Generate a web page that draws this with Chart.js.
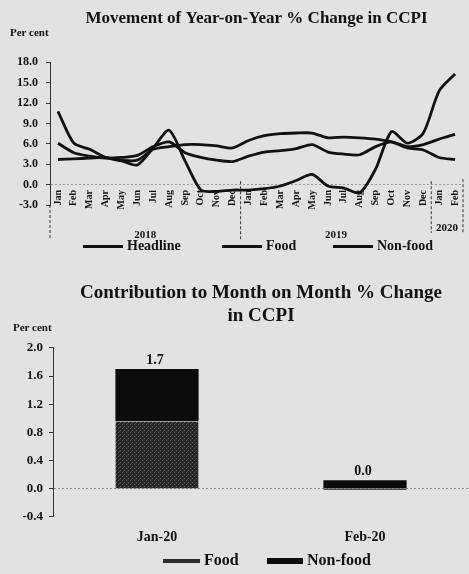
<!DOCTYPE html>
<html>
<head>
<meta charset="utf-8">
<script src="https://cdn.jsdelivr.net/npm/chart.js@4.4.1/dist/chart.umd.min.js"></script>
<style>
  body { margin: 0; background: #e2e3e1; font-family: 'Liberation Serif', serif; color: #111; }
  #wrap { position: relative; width: 469px; height: 574px; overflow: hidden; }
  canvas { position: absolute; left: 0; }
  .unit { position: absolute; font-weight: bold; font-size: 11px; line-height: 1; }
  .key { position: absolute; font-weight: bold; white-space: nowrap; line-height: 1; }
  .key i { display: inline-block; vertical-align: middle; margin-right: 4px; background: #111; }
</style>
</head>
<body>
<div id="wrap">
  <canvas id="yoyChart" width="469" height="242" style="top:0"></canvas>
  <div class="unit" style="left:10px;top:27px">Per cent</div>
  <div class="key" style="left:83px;top:239px;font-size:14px"><i style="width:40px;height:3px"></i>Headline</div>
  <div class="key" style="left:222px;top:239px;font-size:14px"><i style="width:40px;height:3px"></i>Food</div>
  <div class="key" style="left:333px;top:239px;font-size:14px"><i style="width:40px;height:3px"></i>Non-food</div>

  <canvas id="momChart" width="469" height="290" style="top:262px"></canvas>
  <div class="unit" style="left:13px;top:322px">Per cent</div>
  <div class="key" style="left:163px;top:552px;font-size:16px"><i style="width:37px;height:4px;background:#2c2c2c"></i>Food</div>
  <div class="key" style="left:267px;top:552px;font-size:16px"><i style="width:36px;height:6px;background:#0b0b0b"></i>Non-food</div>
</div>

<script>
// --- year-on-year chart data (Jan 2018 - Feb 2020)
const months = ['Jan', 'Feb', 'Mar', 'Apr', 'May', 'Jun', 'Jul', 'Aug', 'Sep', 'Oct', 'Nov', 'Dec',
                'Jan', 'Feb', 'Mar', 'Apr', 'May', 'Jun', 'Jul', 'Aug', 'Sep', 'Oct', 'Nov', 'Dec',
                'Jan', 'Feb'];
const years = ['2018', '2019', '2020'];
const yearStart = [0, 12, 24];
const headline = [6.1, 4.7, 4.2, 3.9, 4.0, 4.3, 5.6, 6.3, 4.7, 4.0, 3.6, 3.4,
                  4.2, 4.8, 5.0, 5.3, 5.9, 4.8, 4.5, 4.4, 5.6, 6.3, 5.6, 5.9,
                  6.7, 7.4];
const food = [10.8, 6.1, 5.2, 4.0, 3.5, 2.9, 5.4, 8.0, 3.5, -0.8, -1.0, -0.8,
              -0.8, -0.6, -0.2, 0.6, 1.5, -0.2, -0.5, -1.2, 2.3, 7.8, 6.1, 7.6,
              13.8, 16.3];
const nonFood = [3.7, 3.8, 3.9, 4.0, 3.6, 3.6, 5.2, 5.6, 5.9, 5.9, 5.7, 5.4,
                 6.5, 7.2, 7.5, 7.6, 7.6, 6.9, 7.0, 6.9, 6.7, 6.3, 5.4, 5.1,
                 4.0, 3.7];

// --- month-on-month contribution data
const contribLabels = ['Jan-20', 'Feb-20'];
const foodContrib = [0.96, -0.02];
const nonFoodContrib = [0.74, 0.12];
const totalLabels = ['1.7', '0.0'];

const serif = 'Liberation Serif';
const ink = '#111';

function isZero(c) {
  return c.tick && Math.abs(c.tick.value) < 1e-9;
}
function oneDecimal(v) {
  return Math.abs(v) < 1e-9 ? '0.0' : v.toFixed(1);
}

// month names sit inside the plot at the -3 level, then year captions and dashed separators
const yearMarks = {
  id: 'yearMarks',
  afterDraw(chart) {
    const { ctx, chartArea, scales: { x, y } } = chart;
    const half = (x.getPixelForValue(1) - x.getPixelForValue(0)) / 2;
    const last = yearStart.length - 1;
    const labelTop = y.getPixelForValue(-3) - 15;
    ctx.save();

    ctx.fillStyle = ink;
    ctx.font = 'bold 10px "' + serif + '"';
    ctx.textAlign = 'right';
    ctx.textBaseline = 'middle';
    months.forEach((m, i) => {
      ctx.save();
      ctx.translate(x.getPixelForValue(i), labelTop);
      ctx.rotate(-Math.PI / 2);
      ctx.fillText(m, 0, 0);
      ctx.restore();
    });

    ctx.strokeStyle = '#333';
    ctx.lineWidth = 1;
    ctx.setLineDash([3, 2]);
    ctx.beginPath();
    ctx.moveTo(chartArea.left, chartArea.bottom);
    ctx.lineTo(chartArea.left, chartArea.bottom + 35);
    yearStart.forEach((start, i) => {
      if (i === 0) return;
      const sx = x.getPixelForValue(start) - half;
      ctx.moveTo(sx, y.getPixelForValue(0.5));
      ctx.lineTo(sx, chartArea.bottom + (i === last ? 28 : 35));
    });
    ctx.moveTo(chartArea.right, y.getPixelForValue(0.8));
    ctx.lineTo(chartArea.right, chartArea.bottom + 28);
    ctx.stroke();

    ctx.setLineDash([]);
    ctx.font = 'bold 11px "' + serif + '"';
    ctx.textAlign = 'center';
    years.forEach((yr, i) => {
      const first = yearStart[i];
      const end = (i < last ? yearStart[i + 1] : months.length) - 1;
      const cx = (x.getPixelForValue(first) + x.getPixelForValue(end)) / 2;
      ctx.fillText(yr, cx, chartArea.bottom + (i === last ? 23 : 30));
    });
    ctx.restore();
  }
};

function lineSet(label, data) {
  return {
    label: label,
    data: data,
    borderColor: ink,
    backgroundColor: ink,
    borderWidth: 2.8,
    pointRadius: 0,
    tension: 0.25,
    fill: false
  };
}

new Chart(document.getElementById('yoyChart'), {
  type: 'line',
  data: {
    labels: months,
    datasets: [
      lineSet('Headline', headline),
      lineSet('Food', food),
      lineSet('Non-food', nonFood)
    ]
  },
  options: {
    responsive: false,
    animation: false,
    layout: { padding: { left: 0, right: 6, bottom: 0 } },
    plugins: {
      legend: { display: false },
      tooltip: { enabled: false },
      title: {
        display: true,
        fullSize: false,
        text: 'Movement of Year-on-Year % Change in CCPI',
        color: ink,
        font: { family: serif, size: 17, weight: 'bold' },
        padding: { top: 8, bottom: 34 }
      }
    },
    scales: {
      x: {
        offset: true,
        grid: { display: false, drawTicks: false },
        border: { display: false },
        ticks: { display: false },
        afterFit: s => { s.height = 37; }
      },
      y: {
        min: -3,
        max: 18,
        ticks: {
          stepSize: 3,
          padding: 8,
          color: ink,
          font: { family: serif, size: 12, weight: 'bold' },
          callback: oneDecimal
        },
        grid: {
          color: c => isZero(c) ? '#9a9a9a' : 'transparent',
          tickColor: '#333',
          tickLength: 4
        },
        border: { color: '#333', dash: [2, 2] },
        afterFit: s => { s.width = 50; }
      }
    }
  },
  plugins: [yearMarks]
});

// speckled fill for the food bars
function speckle() {
  const c = document.createElement('canvas');
  c.width = 4; c.height = 4;
  const g = c.getContext('2d');
  g.fillStyle = '#262626'; g.fillRect(0, 0, 4, 4);
  g.fillStyle = '#5e5e5e'; g.fillRect(0, 0, 1, 1); g.fillRect(2, 2, 1, 1);
  g.fillStyle = '#444'; g.fillRect(3, 1, 1, 1);
  return g.createPattern(c, 'repeat');
}

// total above each stacked bar
const totalsOnTop = {
  id: 'totalsOnTop',
  afterDatasetsDraw(chart) {
    const { ctx, scales: { x, y } } = chart;
    ctx.save();
    ctx.fillStyle = ink;
    ctx.font = 'bold 14px "' + serif + '"';
    ctx.textAlign = 'center';
    ctx.textBaseline = 'bottom';
    totalLabels.forEach((t, i) => {
      const top = Math.max(foodContrib[i], 0) + Math.max(nonFoodContrib[i], 0);
      ctx.fillText(t, x.getPixelForValue(i) - 2, y.getPixelForValue(top) - 2);
    });
    ctx.restore();
  }
};

new Chart(document.getElementById('momChart'), {
  type: 'bar',
  data: {
    labels: contribLabels,
    datasets: [
      {
        label: 'Food',
        data: foodContrib,
        backgroundColor: speckle(),
        borderColor: '#9c9c9c',
        borderWidth: { top: 1, left: 0, right: 0, bottom: 0 },
        borderSkipped: false
      },
      {
        label: 'Non-food',
        data: nonFoodContrib,
        backgroundColor: '#0b0b0b'
      }
    ]
  },
  options: {
    responsive: false,
    animation: false,
    layout: { padding: { left: 0, right: 0, bottom: 0 } },
    datasets: { bar: { barPercentage: 0.4, categoryPercentage: 1 } },
    plugins: {
      legend: { display: false },
      tooltip: { enabled: false },
      title: {
        display: true,
        fullSize: false,
        text: ['Contribution to Month on Month % Change', 'in CCPI'],
        color: ink,
        font: { family: serif, size: 19, weight: 'bold', lineHeight: 1.21 },
        padding: { top: 20, bottom: 20 }
      }
    },
    scales: {
      x: {
        stacked: true,
        grid: { display: false, drawTicks: false },
        border: { display: false },
        ticks: {
          padding: 12,
          color: ink,
          font: { family: serif, size: 14, weight: 'bold' }
        },
        afterFit: s => { s.height = 35.3; }
      },
      y: {
        stacked: true,
        min: -0.4,
        max: 2.0,
        ticks: {
          stepSize: 0.4,
          padding: 6,
          color: ink,
          font: { family: serif, size: 13, weight: 'bold' },
          callback: oneDecimal
        },
        grid: {
          color: c => isZero(c) ? '#8a8a8a' : 'transparent',
          tickColor: '#333',
          tickLength: 4
        },
        border: { color: '#333', dash: [2, 2] },
        afterFit: s => { s.width = 53; }
      }
    }
  },
  plugins: [totalsOnTop]
});
</script>
</body>
</html>
